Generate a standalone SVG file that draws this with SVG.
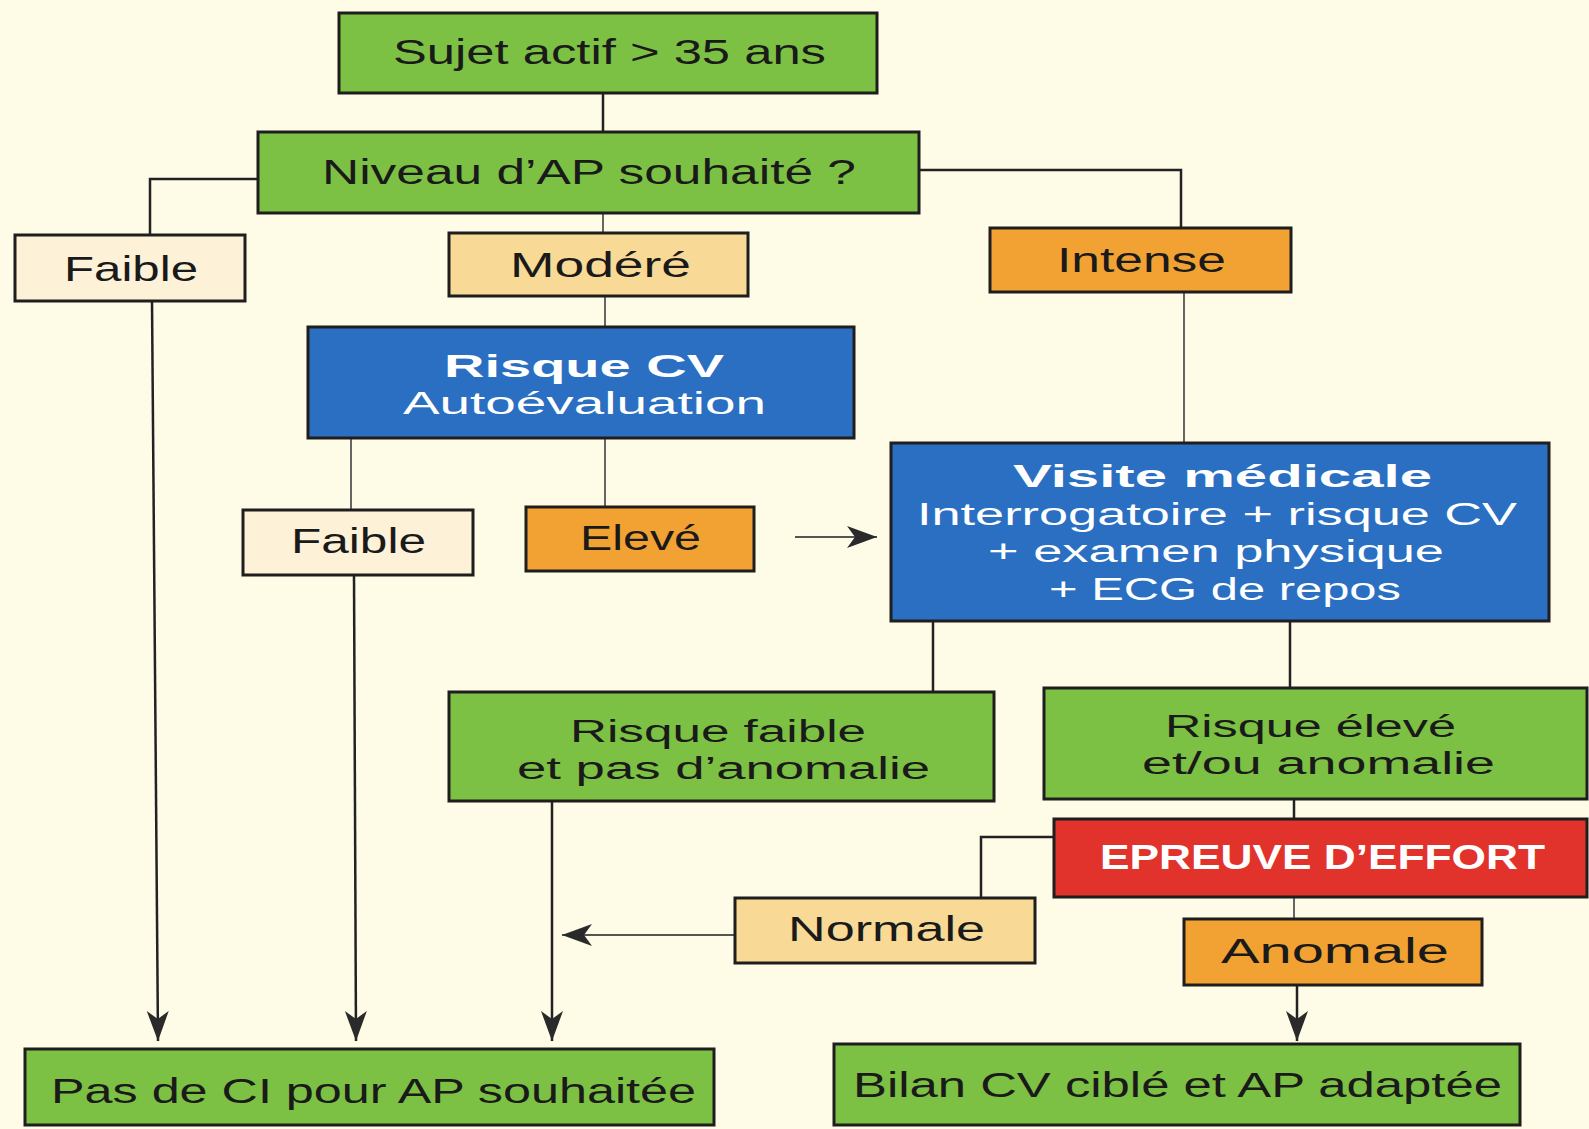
<svg xmlns="http://www.w3.org/2000/svg" width="1589" height="1129" viewBox="0 0 1589 1129">
<style>
.box{stroke:#1e1e1e;stroke-width:3}
.green{fill:#7cc143}
.blue{fill:#2a6fc1}
.orange{fill:#f2a232}
.cream{fill:#fdf2d8}
.peach{fill:#f8d995}
.red{fill:#e2322c}
.t{font-family:"Liberation Sans",Arial,sans-serif;font-size:35px;fill:#1a1a1a;text-anchor:start}
.m{font-size:31px}
.w{fill:#ffffff}
.b{font-weight:bold}
.ln{fill:none;stroke:#222;stroke-width:2.5}
.lt{fill:none;stroke:#555;stroke-width:1.8}
</style>
<defs>
<marker id="ah" markerUnits="userSpaceOnUse" markerWidth="32" markerHeight="24" refX="30" refY="11" orient="auto">
<path d="M0,0 L30,11 L0,22 L8,11 Z" fill="#2a2a2a"/>
</marker>
</defs>
<rect width="1589" height="1129" fill="#fefbe7"/>
<g id="connectors">
<path class="ln" d="M603,93 V132"/>
<path class="ln" d="M258,179 H150 V235"/>
<path class="lt" d="M603,213 V233"/>
<path class="ln" d="M919,170 H1181 V228"/>
<path class="lt" d="M605,296 V327"/>
<path class="ln" d="M152,301 L158,1041" marker-end="url(#ah)"/>
<path class="lt" d="M351,438 V510"/>
<path class="lt" d="M605,438 V507"/>
<path class="ln" d="M354,575 L356,1041" marker-end="url(#ah)"/>
<path class="lt" d="M795,537 H877" marker-end="url(#ah)"/>
<path class="lt" d="M1184,292 V443"/>
<path class="ln" d="M933,621 V692"/>
<path class="ln" d="M1290,621 V688"/>
<path class="ln" d="M552,801 V1041" marker-end="url(#ah)"/>
<path class="ln" d="M1294,799 V819"/>
<path class="ln" d="M1054,837 H981 V898"/>
<path class="lt" d="M1294,897 V919"/>
<path class="lt" d="M735,935 H562" marker-end="url(#ah)"/>
<path class="ln" d="M1297,985 V1041" marker-end="url(#ah)"/>
</g>
<g id="n-sujet">
<rect class="box green" x="339" y="13" width="538" height="80"/>
<text class="t" x="393" y="64" textLength="433" lengthAdjust="spacingAndGlyphs">Sujet actif &gt; 35 ans</text>
</g>
<g id="n-niveau">
<rect class="box green" x="258" y="132" width="661" height="81"/>
<text class="t" x="322" y="184" textLength="534" lengthAdjust="spacingAndGlyphs">Niveau d’AP souhaité ?</text>
</g>
<g id="n-faible1">
<rect class="box cream" x="15" y="235" width="230" height="66"/>
<text class="t" x="64" y="281" textLength="134" lengthAdjust="spacingAndGlyphs">Faible</text>
</g>
<g id="n-modere">
<rect class="box peach" x="449" y="233" width="299" height="63"/>
<text class="t" x="510" y="277" textLength="181" lengthAdjust="spacingAndGlyphs">Modéré</text>
</g>
<g id="n-intense">
<rect class="box orange" x="990" y="228" width="301" height="64"/>
<text class="t" x="1057" y="272" textLength="169" lengthAdjust="spacingAndGlyphs" fill="#3a1a05">Intense</text>
</g>
<g id="n-risquecv">
<rect class="box blue" x="308" y="327" width="546" height="111"/>
<text class="t m w b" x="444" y="377" textLength="280" lengthAdjust="spacingAndGlyphs">Risque CV</text>
<text class="t m w" x="403" y="414" textLength="363" lengthAdjust="spacingAndGlyphs">Autoévaluation</text>
</g>
<g id="n-faible2">
<rect class="box cream" x="243" y="510" width="230" height="65"/>
<text class="t" x="291" y="553" textLength="135" lengthAdjust="spacingAndGlyphs">Faible</text>
</g>
<g id="n-eleve">
<rect class="box orange" x="526" y="507" width="228" height="64"/>
<text class="t" x="580" y="550" textLength="121" lengthAdjust="spacingAndGlyphs" fill="#3a1a05">Elevé</text>
</g>
<g id="n-visite">
<rect class="box blue" x="891" y="443" width="658" height="178"/>
<text class="t m w b" x="1013" y="487" textLength="419" lengthAdjust="spacingAndGlyphs">Visite médicale</text>
<text class="t m w" x="917" y="525" textLength="600" lengthAdjust="spacingAndGlyphs">Interrogatoire + risque CV</text>
<text class="t m w" x="988" y="562" textLength="456" lengthAdjust="spacingAndGlyphs">+ examen physique</text>
<text class="t m w" x="1049" y="600" textLength="352" lengthAdjust="spacingAndGlyphs">+ ECG de repos</text>
</g>
<g id="n-risquefaible">
<rect class="box green" x="449" y="692" width="545" height="109"/>
<text class="t m" x="570" y="742" textLength="296" lengthAdjust="spacingAndGlyphs">Risque faible</text>
<text class="t m" x="517" y="779" textLength="413" lengthAdjust="spacingAndGlyphs">et pas d’anomalie</text>
</g>
<g id="n-risqueeleve">
<rect class="box green" x="1044" y="688" width="543" height="111"/>
<text class="t m" x="1165" y="737" textLength="291" lengthAdjust="spacingAndGlyphs">Risque élevé</text>
<text class="t m" x="1142" y="774" textLength="353" lengthAdjust="spacingAndGlyphs">et/ou anomalie</text>
</g>
<g id="n-epreuve">
<rect class="box red" x="1054" y="819" width="533" height="78"/>
<text class="t w b" x="1100" y="869" textLength="445" lengthAdjust="spacingAndGlyphs">EPREUVE D’EFFORT</text>
</g>
<g id="n-normale">
<rect class="box peach" x="735" y="898" width="300" height="65"/>
<text class="t" x="788" y="941" textLength="197" lengthAdjust="spacingAndGlyphs">Normale</text>
</g>
<g id="n-anomale">
<rect class="box orange" x="1184" y="919" width="298" height="66"/>
<text class="t" x="1221" y="963" textLength="228" lengthAdjust="spacingAndGlyphs">Anomale</text>
</g>
<g id="n-pasdeci">
<rect class="box green" x="25" y="1049" width="689" height="76"/>
<text class="t" x="51" y="1103" textLength="645" lengthAdjust="spacingAndGlyphs">Pas de CI pour AP souhaitée</text>
</g>
<g id="n-bilan">
<rect class="box green" x="834" y="1044" width="686" height="81"/>
<text class="t" x="853" y="1097" textLength="649" lengthAdjust="spacingAndGlyphs">Bilan CV ciblé et AP adaptée</text>
</g>
</svg>
